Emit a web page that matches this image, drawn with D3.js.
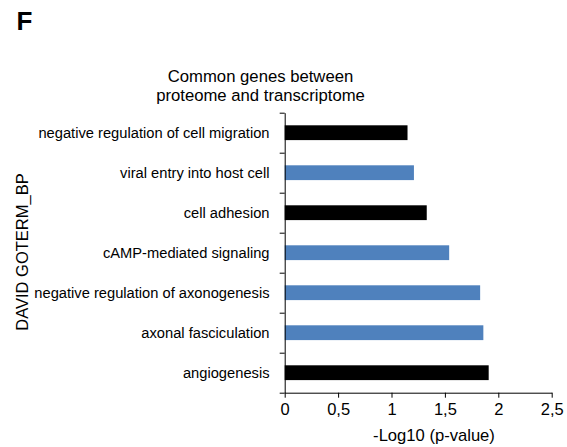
<!DOCTYPE html>
<html>
<head>
<meta charset="utf-8">
<script src="https://cdn.jsdelivr.net/npm/d3@7"></script>
<style>
  html, body { margin: 0; padding: 0; background: #fff; }
  svg { display: block; font-family: Arial, "Liberation Sans", sans-serif; }
</style>
</head>
<body>
<svg id="chart" width="567" height="447"></svg>
<script>
// GO terms (top to bottom) and their enrichment, -log10(p-value)
const categories = [
  "negative regulation of cell migration",
  "viral entry into host cell",
  "cell adhesion",
  "cAMP-mediated signaling",
  "negative regulation of axonogenesis",
  "axonal fasciculation",
  "angiogenesis"
];
const values = [1.15, 1.21, 1.33, 1.54, 1.83, 1.86, 1.91];
// which list each term comes from: dark = "a", blue = "b"
const groups = ["a", "b", "a", "b", "b", "b", "a"];
const xTickValues = [0, 0.5, 1, 1.5, 2, 2.5];
const xTickLabels = ["0", "0,5", "1", "1,5", "2", "2,5"];

const colors = { a: "#000000", b: "#4f81bd" };

const svg = d3.select("#chart");
const plotLeft = 284.7, plotRight = 551.7, plotTop = 112.7, plotBottom = 392.7;

const x = d3.scaleLinear().domain([0, 2.5]).range([plotLeft, plotRight]);
const y = d3.scaleBand().domain(categories).range([plotTop, plotBottom])
  .paddingInner(0.63).paddingOuter(0.315);
// category boundaries for the y-axis tick marks
const yEdges = d3.scaleLinear().domain([0, categories.length]).range([plotTop, plotBottom]);

// bars
svg.append("g").selectAll("rect")
  .data(categories)
  .join("rect")
  .attr("x", x(0))
  .attr("y", d => y(d))
  .attr("width", (d, i) => x(values[i]) - x(0))
  .attr("height", y.bandwidth())
  .attr("fill", (d, i) => colors[groups[i]]);

// y axis (ticks between categories, no labels)
const yAxis = svg.append("g")
  .attr("transform", `translate(${plotLeft},0)`)
  .call(d3.axisLeft(yEdges).tickValues(d3.range(categories.length + 1))
    .tickFormat("").tickSize(5).tickSizeOuter(0));
yAxis.select(".domain").attr("stroke", "#000");
yAxis.selectAll(".tick line").attr("stroke", "#000");

// x axis
const xAxis = svg.append("g")
  .attr("transform", `translate(0,${plotBottom})`)
  .call(d3.axisBottom(x).tickValues(xTickValues)
    .tickFormat((d, i) => xTickLabels[i]).tickSize(5).tickSizeOuter(0).tickPadding(6));
xAxis.select(".domain").attr("stroke", "#000");
xAxis.selectAll(".tick line").attr("stroke", "#000");
xAxis.selectAll(".tick text")
  .attr("font-family", "Arial, 'Liberation Sans', sans-serif")
  .attr("font-size", "16.5px").attr("fill", "#000");

// category labels
svg.append("g").selectAll("text")
  .data(categories)
  .join("text")
  .attr("x", 269.5)
  .attr("y", d => y(d) + y.bandwidth() / 2)
  .attr("dy", "0.36em")
  .attr("text-anchor", "end")
  .attr("font-size", "14.7px")
  .attr("fill", "#000")
  .text(d => d);

// chart title
const title = svg.append("text")
  .attr("text-anchor", "middle")
  .attr("font-size", "16.7px")
  .attr("fill", "#000");
title.append("tspan").attr("x", 260.5).attr("y", 82).text("Common genes between");
title.append("tspan").attr("x", 260.5).attr("y", 101).text("proteome and transcriptome");

// axis titles
svg.append("text")
  .attr("x", 434).attr("y", 441)
  .attr("text-anchor", "middle")
  .attr("font-size", "16.6px")
  .attr("fill", "#000")
  .text("-Log10 (p-value)");

svg.append("text")
  .attr("transform", "translate(28,252) rotate(-90)")
  .attr("text-anchor", "middle")
  .attr("font-size", "16.5px")
  .attr("fill", "#000")
  .text("DAVID GOTERM_BP");

// panel letter
svg.append("text")
  .attr("x", 16.5).attr("y", 29.5)
  .attr("font-size", "26px")
  .attr("font-weight", "bold")
  .attr("fill", "#000")
  .text("F");
</script>
</body>
</html>
